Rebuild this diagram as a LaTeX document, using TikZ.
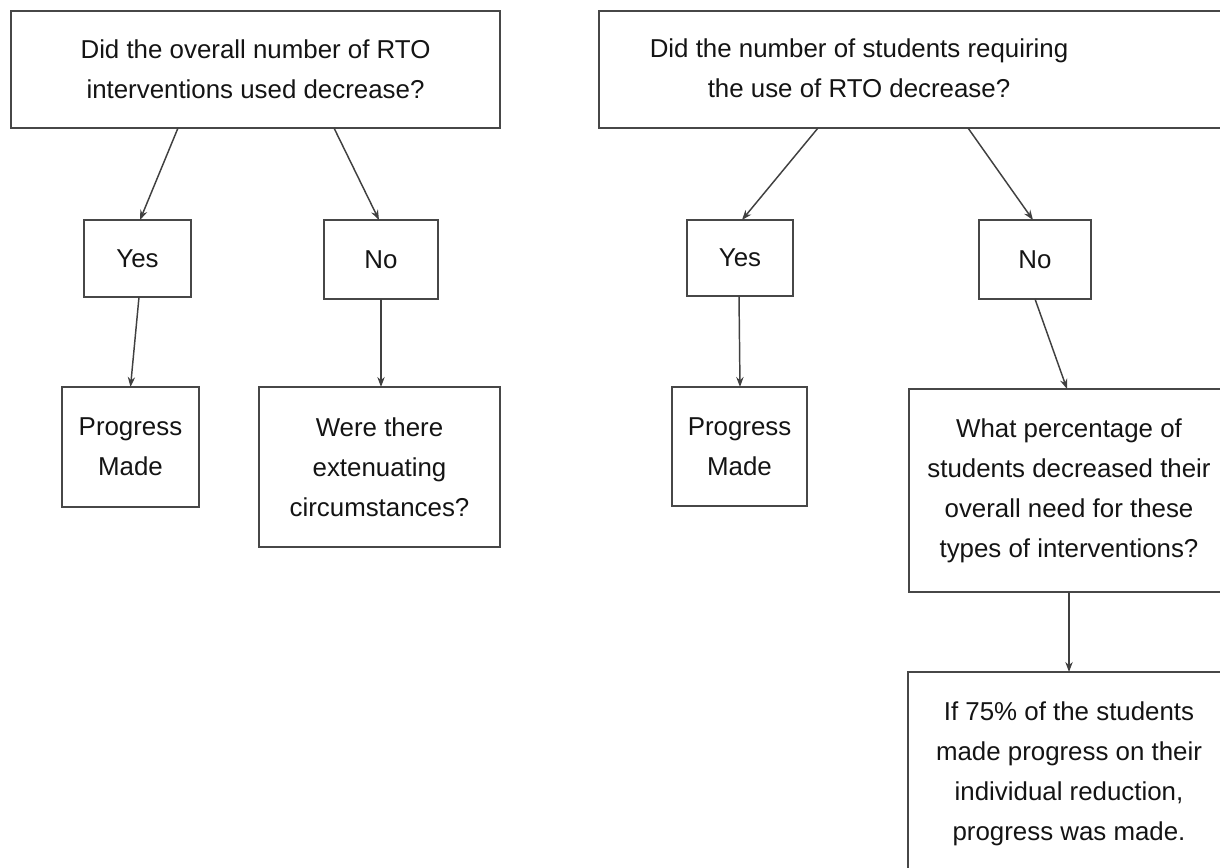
\documentclass[tikz,border=0pt]{standalone}
\usepackage{fontspec}
\setmainfont{Liberation Sans}
\usetikzlibrary{calc,arrows.meta}
\tikzset{
  box/.style={draw=black!72, line width=1.5pt, inner sep=0pt, outer sep=0pt, align=center, text=black!92, font=\fontsize{19.4}{30}\selectfont},
  txt/.style={inner sep=0pt, align=center, text=black!92, font=\fontsize{19.4}{30}\selectfont},
  arr/.style={draw=black!75, line width=1.1pt, -{Stealth[length=7.5pt,width=5.5pt]}}
}
\begin{document}
\begin{tikzpicture}[x=0.75pt,y=-0.75pt]
\useasboundingbox (0,0) rectangle (1220,867);
% left tree
\node[box, minimum width=489*0.75pt, minimum height=117*0.75pt] (q1) at (255.5,69.5) {Did the overall number of RTO\\interventions used decrease?};
\node[box, minimum width=107*0.75pt, minimum height=77*0.75pt] (y1) at (137.5,258.5) {Yes};
\node[box, minimum width=114*0.75pt, minimum height=79*0.75pt] (n1) at (381,259.5) {No};
\node[box, minimum width=137*0.75pt, minimum height=120*0.75pt] (p1) at (130.5,447) {Progress\\Made};
\node[box, minimum width=241*0.75pt, minimum height=160*0.75pt] (w1) at (379.5,467) {Were there\\extenuating\\circumstances?};
% right tree
\node[box, minimum width=641*0.75pt, minimum height=117*0.75pt] (q2) at (919.5,69.5) {};
\node[txt] (q2t) at (859,68) {Did the number of students requiring\\the use of RTO decrease?};
\node[box, minimum width=106*0.75pt, minimum height=76*0.75pt] (y2) at (740,258) {Yes};
\node[box, minimum width=112*0.75pt, minimum height=79*0.75pt] (n2) at (1035,259.5) {No};
\node[box, minimum width=135*0.75pt, minimum height=119*0.75pt] (p2) at (739.5,446.5) {Progress\\Made};
\node[box, minimum width=320*0.75pt, minimum height=203*0.75pt] (w2) at (1069,490.5) {What percentage of\\students decreased their\\overall need for these\\types of interventions?};
\node[box, minimum width=322*0.75pt, minimum height=204*0.75pt] (i2) at (1069,774) {If 75\% of the students\\made progress on their\\individual reduction,\\progress was made.};
% connectors
\draw[arr] ($(q1.south)+(-77.5,0)$) -- ($(y1.north)+(2.5,0)$);
\draw[arr] ($(q1.south)+(78.5,0)$) -- ($(n1.north)+(-2,0)$);
\draw[arr] ($(y1.south)+(1.5,0)$) -- (p1.north);
\draw[arr] (n1.south) -- (n1.south |- w1.north);
\draw[arr] ($(q2.south west)+(219,0)$) -- ($(y2.north)+(2,0)$);
\draw[arr] ($(q2.south west)+(369,0)$) -- ($(n2.north)+(-2,0)$);
\draw[arr] ($(y2.south)+(-1,0)$) -- (y2.south |- p2.north);
\draw[arr] (n2.south) -- ($(w2.north)+(-2,0)$);
\draw[arr] (w2.south) -- (i2.north);
\end{tikzpicture}
\end{document}
